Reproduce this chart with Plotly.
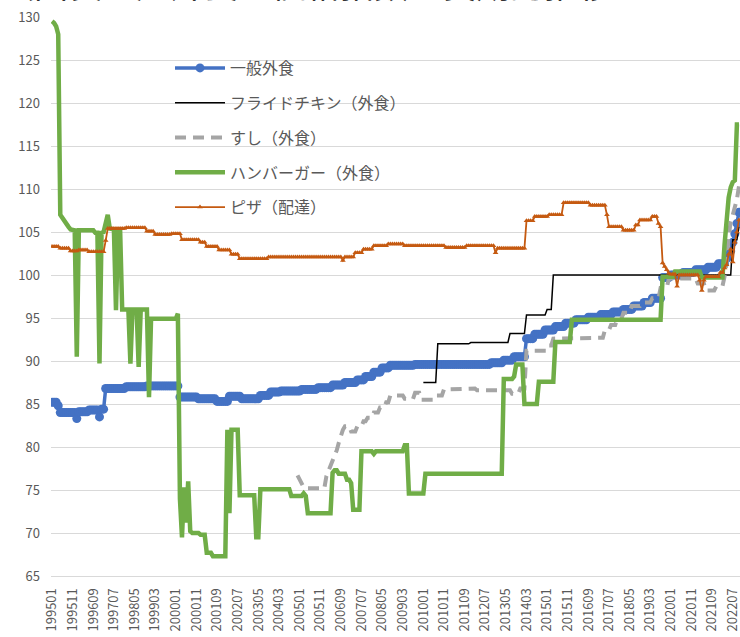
import plotly.graph_objects as go

# ---------------- data ----------------
N_MONTHS = 334  # 199501 .. 202210
months = [f"{1995 + k // 12}{k % 12 + 1:02d}" for k in range(N_MONTHS)]

tick_labels = ["199501", "199511", "199609", "199707", "199805", "199903", "200001",
               "200011", "200109", "200207", "200305", "200403", "200501", "200511",
               "200609", "200707", "200805", "200903", "201001", "201011", "201109",
               "201207", "201305", "201403", "201501", "201511", "201609", "201707",
               "201805", "201903", "202001", "202011", "202109", "202207"]

# (month offset from 199501, index value) change points
general_steps = [(0, 85.2), (3, 84.8), (4, 84.0), (12, 83.3), (13, 84.1), (18, 84.3), (23, 83.5),
                 (24, 84.4), (26, 86.8), (36, 87.0), (46, 87.1), (62, 85.8), (71, 85.6), (80, 85.3),
                 (86, 85.9), (92, 85.6), (101, 86.0), (106, 86.4), (111, 86.5), (121, 86.7),
                 (129, 86.9), (136, 87.2), (142, 87.5), (148, 87.8), (152, 88.2), (156, 88.7),
                 (160, 89.2), (164, 89.5), (176, 89.6), (213, 89.8), (219, 90.1), (224, 90.5),
                 (230, 92.6), (234, 93.1), (239, 93.6), (244, 94.0), (249, 94.4), (254, 94.8),
                 (260, 95.1), (266, 95.4), (272, 95.7), (277, 96.0), (282, 96.4), (287, 96.8),
                 (291, 97.3), (296, 99.7), (300, 100.0), (306, 100.3), (312, 100.6), (318, 100.9),
                 (323, 101.3), (327, 101.9), (328, 102.3), (329, 102.8), (330, 103.8), (331, 104.8),
                 (332, 106.0), (333, 107.3)]

chicken_steps = [(180, 87.5), (187, 92.0), (203, 92.15), (222, 93.2), (230, 95.35), (240, 96.0),
                 (243, 100.0), (330, 104.1), (333, 105.6)]

sushi_steps = [(119, 76.7), (120, 76.2), (121, 75.7), (122, 75.3), (123, 75.2), (133, 76.6),
               (134, 77.2), (135, 77.8), (136, 78.4), (137, 78.9), (138, 79.6), (139, 80.5),
               (140, 81.4), (141, 82.0), (142, 82.4), (145, 81.8), (148, 82.4), (151, 83.0),
               (153, 83.4), (156, 84.0), (159, 84.6), (162, 85.2), (164, 86.0), (171, 85.6),
               (176, 86.3), (179, 85.5), (186, 86.0), (190, 86.7), (196, 86.8), (206, 86.6),
               (223, 86.2), (227, 86.8), (230, 91.2), (241, 91.8), (243, 92.6), (261, 92.7),
               (268, 93.6), (271, 94.2), (274, 94.9), (277, 95.6), (281, 96.4), (286, 96.8),
               (291, 97.3), (295, 98.5), (299, 99.6), (313, 99.0), (317, 98.2), (322, 98.7),
               (326, 99.8), (327, 101.5), (328, 104.5), (329, 106.2), (330, 107.0), (331, 107.8),
               (332, 108.8), (333, 110.3)]

hamburger_steps = [(0, 129.5), (1, 129.3), (2, 128.9), (3, 128.0), (4, 107.0), (5, 106.6),
                   (6, 106.3), (7, 106.0), (8, 105.6), (9, 105.3), (10, 105.2), (12, 90.5),
                   (13, 105.2), (21, 104.9), (23, 89.7), (24, 104.9), (25, 105.0), (26, 106.0),
                   (27, 107.0), (28, 105.4), (29, 105.3), (31, 95.9), (32, 105.3), (34, 96.0),
                   (38, 89.7), (39, 96.0), (42, 89.3), (43, 96.0), (47, 85.8), (48, 94.9),
                   (61, 95.5), (62, 74.0), (63, 69.5), (64, 75.3), (65, 71.2), (66, 76.0),
                   (67, 70.2), (68, 70.0), (72, 69.8), (75, 67.7), (78, 67.3), (85, 82.0),
                   (86, 72.3), (87, 82.0), (91, 74.4), (99, 69.5), (101, 75.1), (116, 74.3),
                   (122, 74.6), (123, 74.3), (124, 72.3), (136, 77.0), (137, 77.3), (139, 76.9),
                   (143, 76.2), (145, 75.8), (146, 72.7), (150, 79.5), (156, 79.2), (157, 79.5),
                   (171, 80.2), (173, 74.6), (181, 76.9), (219, 87.9), (224, 88.2), (225, 89.6),
                   (229, 85.0), (236, 87.6), (244, 92.2), (252, 94.8), (296, 99.8), (302, 100.4),
                   (315, 99.7), (326, 103.5), (327, 107.2), (328, 109.0), (329, 110.2),
                   (330, 110.8), (331, 111.0), (332, 117.5)]

pizza_steps = [(0, 103.3), (4, 103.1), (9, 102.8), (13, 102.9), (18, 102.7), (26, 104.0),
               (27, 105.4), (36, 105.5), (46, 105.1), (50, 104.7), (58, 104.8), (63, 104.1),
               (72, 103.8), (75, 103.3), (81, 102.9), (87, 102.4), (91, 101.9), (105, 102.1),
               (141, 101.7), (142, 102.1), (147, 102.6), (151, 103.0), (156, 103.4), (163, 103.6),
               (171, 103.4), (191, 103.2), (201, 103.4), (215, 102.6), (216, 103.1), (230, 106.3),
               (234, 106.8), (241, 107.0), (248, 108.4), (261, 108.1), (269, 107.0), (270, 105.6),
               (277, 105.2), (283, 105.8), (285, 106.4), (291, 106.8), (294, 106.0), (295, 105.6),
               (296, 101.4), (297, 101.0), (298, 100.6), (299, 100.2), (300, 100.1), (303, 98.7),
               (304, 100.0), (314, 99.4), (315, 98.2), (316, 99.4), (317, 99.8), (324, 100.3),
               (326, 100.8), (327, 101.2), (328, 102.4), (329, 103.0), (330, 101.5), (331, 103.8),
               (332, 105.0), (333, 106.4)]

series_names = ["一般外食", "フライドチキン（外食）", "すし（外食）", "ハンバーガー（外食）", "ピザ（配達）"]
title_text = "（図表４）外食の価格指数の長期的推移"


def expand(steps, n):
    out = [None] * n
    for k, (start, val) in enumerate(steps):
        end = steps[k + 1][0] if k + 1 < len(steps) else n
        for m in range(start, end):
            out[m] = val
    return out


general = expand(general_steps, N_MONTHS)
chicken = expand(chicken_steps, N_MONTHS)
sushi = expand(sushi_steps, N_MONTHS)
hamburger = expand(hamburger_steps, N_MONTHS)
pizza = expand(pizza_steps, N_MONTHS)

# ---------------- figure ----------------
FONT = "Noto Sans CJK JP"
GREY_TXT = "#595959"

fig = go.Figure()
fig.add_trace(go.Scatter(x=months, y=general, name=series_names[0], mode="lines+markers",
                         line=dict(color="#4472C4", width=3.5),
                         marker=dict(symbol="circle", size=9, color="#4472C4"),
                         legendgroup="g1"))
fig.add_trace(go.Scatter(x=months, y=chicken, name=series_names[1], mode="lines",
                         line=dict(color="#000000", width=1.5), legendgroup="g2"))
fig.add_trace(go.Scatter(x=months, y=sushi, name=series_names[2], mode="lines",
                         line=dict(color="#A5A5A5", width=4, dash="11px,7px"), legendgroup="g3"))
fig.add_trace(go.Scatter(x=months, y=hamburger, name=series_names[3], mode="lines",
                         line=dict(color="#70AD47", width=4.5), legendgroup="g4"))
fig.add_trace(go.Scatter(x=months, y=pizza, name=series_names[4], mode="lines+markers",
                         line=dict(color="#C55A11", width=1.8),
                         marker=dict(symbol="triangle-up", size=5, color="#C55A11"),
                         legendgroup="g5"))

fig.add_annotation(text=title_text, xref="paper", yref="paper", x=-53 / 689, y=1 + 33 / 559,
                   xanchor="left", yanchor="middle", showarrow=False,
                   font=dict(family=FONT, size=34, color="#333333"))

fig.update_layout(
    width=740, height=637,
    margin=dict(l=51, r=0, t=17, b=61),
    paper_bgcolor="white", plot_bgcolor="white",
    font=dict(family=FONT, color=GREY_TXT),
    showlegend=True,
    legend=dict(x=(170 - 51) / 689, y=1 - (51 - 17) / 559, xanchor="left", yanchor="top",
                bgcolor="rgba(0,0,0,0)", font=dict(family=FONT, size=16, color=GREY_TXT),
                tracegroupgap=11, itemwidth=50),
    xaxis=dict(type="category", range=[-0.5, N_MONTHS - 0.5], tickmode="array",
               tickvals=tick_labels, ticktext=tick_labels, tickangle=-90,
               tickfont=dict(family=FONT, size=13, color=GREY_TXT),
               showgrid=False, showline=True, linecolor="#D9D9D9", linewidth=1,
               ticks="", ticklabelstandoff=6),
    yaxis=dict(range=[65, 130], dtick=5, tick0=65,
               tickfont=dict(family=FONT, size=13, color=GREY_TXT),
               showgrid=True, gridcolor="#D9D9D9", gridwidth=1, zeroline=False,
               showline=False, ticks="", ticklabelstandoff=10),
)

fig.write_html("out.html")
